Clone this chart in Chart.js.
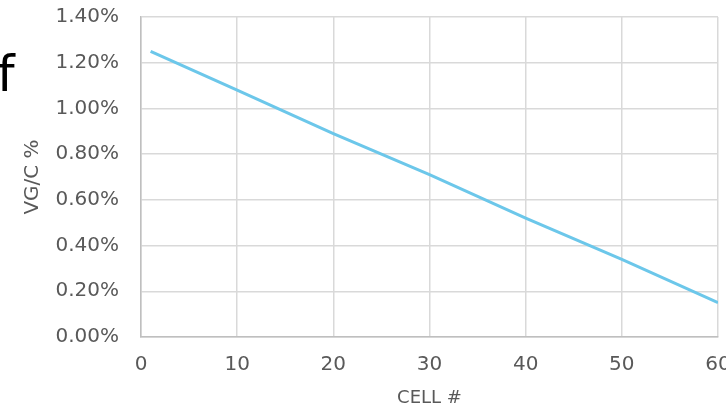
<!DOCTYPE html>
<html>
<head>
<meta charset="utf-8">
<script src="https://cdn.jsdelivr.net/npm/chart.js@4"></script>
<style>
  html, body { margin: 0; padding: 0; background: #fff; }
  #wrap { position: relative; width: 726px; height: 409px; overflow: hidden; }
  #c { position: absolute; left: 0; top: 0; }
  #frag { position: absolute; left: -3px; top: 49px; font-family: "DejaVu Sans", sans-serif; font-size: 50px; color: #000; line-height: 1; }
</style>
</head>
<body>
<div id="wrap">
  <canvas id="c" width="726" height="409"></canvas>
  <div id="frag">f</div>
</div>
<script>
const cells = [1, 10, 20, 30, 40, 50, 60];
const vgPercent = [1.25, 1.08, 0.89, 0.71, 0.52, 0.34, 0.15];
const xTitle = 'CELL #';
const yTitle = 'VG/C %';

const FONT = '"DejaVu Sans", sans-serif';
const TXT = '#595959';

new Chart(document.getElementById('c'), {
  type: 'line',
  data: {
    datasets: [{
      data: cells.map((x, i) => ({ x: x, y: vgPercent[i] })),
      borderColor: '#6CC7EA',
      borderWidth: 3,
      pointRadius: 0,
      tension: 0,
      fill: false
    }]
  },
  options: {
    responsive: false,
    animation: false,
    layout: { padding: { top: 17, right: 8, bottom: 0, left: 0 } },
    plugins: { legend: { display: false }, tooltip: { enabled: false } },
    scales: {
      x: {
        type: 'linear', min: 0, max: 60,
        grid: { color: '#D9D9D9', lineWidth: 1.5, drawTicks: false },
        border: { color: '#BFBFBF', width: 1.5 },
        ticks: { stepSize: 10, padding: 16, color: TXT, font: { family: FONT, size: 20 }, maxRotation: 0 },
        title: { display: true, text: xTitle, color: TXT, font: { family: FONT, size: 18 }, padding: 0 },
        afterFit: s => { s.height = 72; s.paddingRight = 0; s.paddingLeft = 0; }
      },
      y: {
        min: 0, max: 1.4,
        grid: { color: '#D9D9D9', lineWidth: 1.5, drawTicks: false },
        border: { color: '#BFBFBF', width: 1.5 },
        ticks: { stepSize: 0.2, padding: 22, color: TXT, font: { family: FONT, size: 20 },
                 callback: v => v.toFixed(2) + '%' },
        title: { display: true, text: yTitle, color: TXT, font: { family: FONT, size: 20 }, padding: { top: 21, bottom: 0 } },
        afterFit: s => { s.width = 141; s.paddingTop = 0; s.paddingBottom = 0; }
      }
    }
  }
});
</script>
</body>
</html>
